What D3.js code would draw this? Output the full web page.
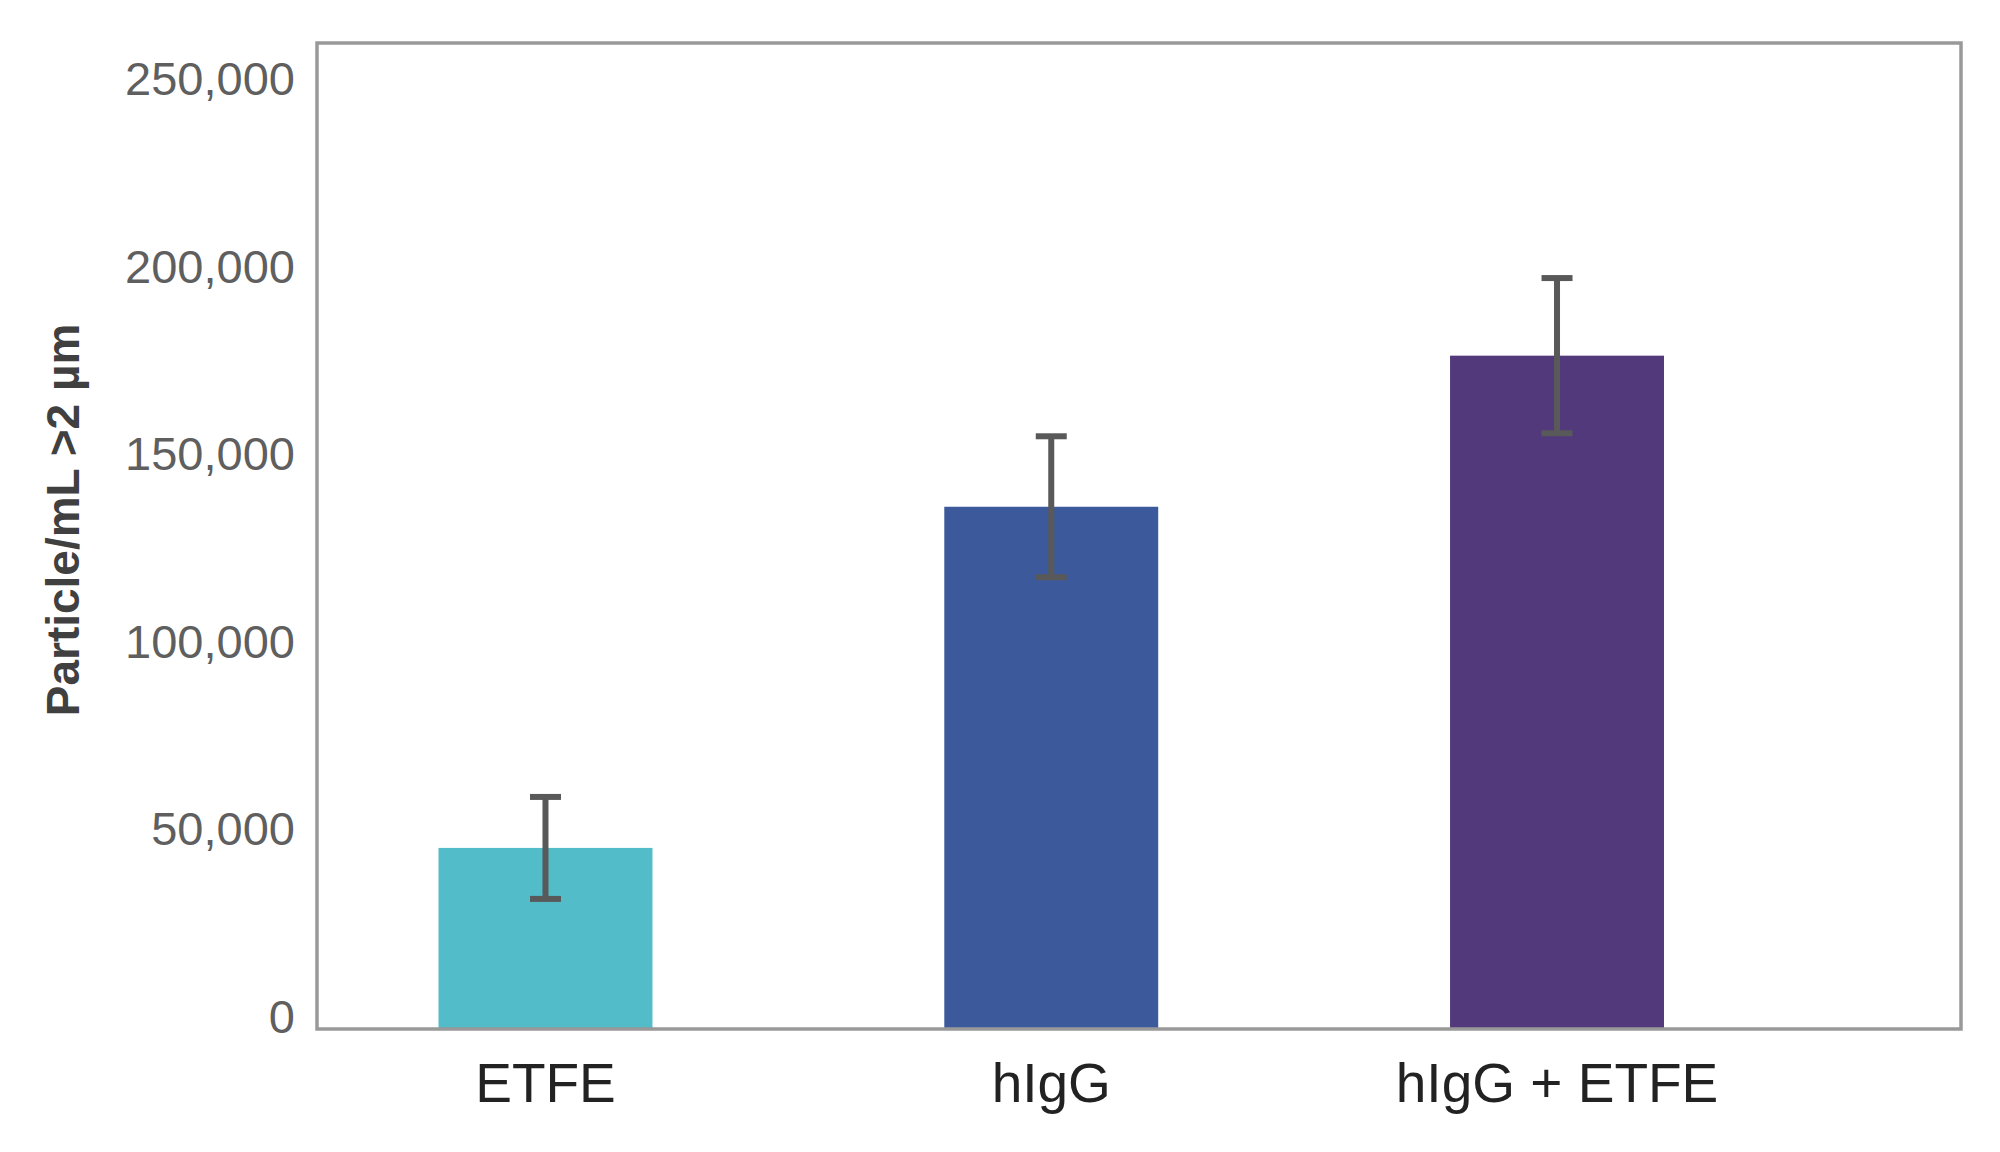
<!DOCTYPE html>
<html>
<head>
<meta charset="utf-8">
<script src="https://cdn.jsdelivr.net/npm/d3@7"></script>
<style>
  body { margin: 0; background: #fff; }
  svg { display: block; font-family: "Liberation Sans", Arial, sans-serif; }
</style>
</head>
<body>
<svg id="chart" width="2000" height="1152"></svg>
<script>
// chart values
var categories = ["ETFE", "hIgG", "hIgG + ETFE"];
var means = [48300, 139300, 179600];
var errors = [13600, 18800, 20700];
var barColors = ["#52bcc8", "#3c5a9b", "#52397c"];
var yTicks = [0, 50000, 100000, 150000, 200000, 250000];
var yMax = 263000;
var yTitle = "Particle/mL >2 µm";

var svg = d3.select("svg#chart");

// plot frame
var frameLeft = 317, frameRight = 1961;
var frameTop = 43, frameBottom = 1029;

//#region Scales
var x = d3.scaleBand()
    .domain(categories)
    .range([292.6, 1809.9])
    .paddingInner(0.577)
    .paddingOuter(0.2885);

var y = d3.scaleLinear()
    .domain([0, yMax])
    .range([frameBottom, frameTop]);
//#endregion

var rows = categories.map(function(c, i){
    return {cat: c, mean: means[i], err: errors[i], color: barColors[i]};
});

// bars
svg.selectAll("rect.bar")
    .data(rows)
    .join("rect")
    .attr("class", "bar")
    .attr("x", function(d){ return x(d.cat); })
    .attr("y", function(d){ return y(d.mean); })
    .attr("width", x.bandwidth())
    .attr("height", function(d){ return y(0) - y(d.mean); })
    .attr("fill", function(d){ return d.color; });

// error bars
var capHalf = 15.5;
var eb = svg.selectAll("g.err")
    .data(rows)
    .join("g")
    .attr("class", "err")
    .attr("stroke", "#595959")
    .attr("stroke-width", 6);

eb.append("line")
    .attr("x1", function(d){ return x(d.cat) + x.bandwidth() / 2; })
    .attr("x2", function(d){ return x(d.cat) + x.bandwidth() / 2; })
    .attr("y1", function(d){ return y(d.mean + d.err); })
    .attr("y2", function(d){ return y(d.mean - d.err); });

eb.append("line")
    .attr("x1", function(d){ return x(d.cat) + x.bandwidth() / 2 - capHalf; })
    .attr("x2", function(d){ return x(d.cat) + x.bandwidth() / 2 + capHalf; })
    .attr("y1", function(d){ return y(d.mean + d.err); })
    .attr("y2", function(d){ return y(d.mean + d.err); });

eb.append("line")
    .attr("x1", function(d){ return x(d.cat) + x.bandwidth() / 2 - capHalf; })
    .attr("x2", function(d){ return x(d.cat) + x.bandwidth() / 2 + capHalf; })
    .attr("y1", function(d){ return y(d.mean - d.err); })
    .attr("y2", function(d){ return y(d.mean - d.err); });

// frame
svg.append("rect")
    .attr("x", frameLeft)
    .attr("y", frameTop)
    .attr("width", frameRight - frameLeft)
    .attr("height", frameBottom - frameTop)
    .attr("fill", "none")
    .attr("stroke", "#999999")
    .attr("stroke-width", 3.5);

// y axis labels
var yAxis = d3.axisLeft(y)
    .tickValues(yTicks)
    .tickFormat(d3.format(","))
    .tickSize(0)
    .tickPadding(22);

var gy = svg.append("g")
    .attr("transform", "translate(" + frameLeft + ",0)")
    .call(yAxis);
gy.select(".domain").remove();
gy.selectAll("text")
    .attr("font-family", "Liberation Sans, Arial, sans-serif")
    .attr("font-size", 47)
    .attr("fill", "#5f5f5f")
    .attr("transform", "translate(0,-12)");

// x axis labels
var xAxis = d3.axisBottom(x).tickSize(0).tickPadding(34);
var gx = svg.append("g")
    .attr("transform", "translate(0," + frameBottom + ")")
    .call(xAxis);
gx.select(".domain").remove();
gx.selectAll("text")
    .attr("font-family", "Liberation Sans, Arial, sans-serif")
    .attr("font-size", 55)
    .attr("fill", "#222222");

// y title
svg.append("text")
    .attr("transform", "translate(79,520) rotate(-90)")
    .attr("text-anchor", "middle")
    .attr("font-size", 46)
    .attr("font-weight", "bold")
    .attr("fill", "#404040")
    .text(yTitle);
</script>
</body>
</html>
